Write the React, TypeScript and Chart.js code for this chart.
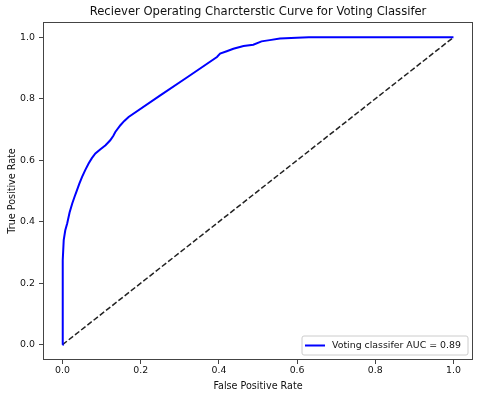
import React, { useEffect, useRef } from "react";
import { Chart, registerables } from "chart.js";

Chart.register(...registerables);

const fpr = [0, 0, 0.001, 0.003, 0.007, 0.012, 0.018, 0.025, 0.031, 0.037, 0.043, 0.05, 0.058, 0.067, 0.075, 0.084, 0.097, 0.11, 0.122, 0.13, 0.135, 0.148, 0.158, 0.169, 0.25, 0.32, 0.395, 0.403, 0.42, 0.437, 0.463, 0.488, 0.509, 0.53, 0.556, 0.599, 0.63, 0.7, 1.0];
const tpr = [0, 0.2, 0.275, 0.34, 0.372, 0.395, 0.43, 0.46, 0.482, 0.503, 0.524, 0.546, 0.568, 0.59, 0.607, 0.622, 0.636, 0.649, 0.665, 0.68, 0.692, 0.714, 0.728, 0.741, 0.811, 0.871, 0.936, 0.947, 0.955, 0.963, 0.972, 0.976, 0.987, 0.991, 0.996, 0.999, 1.0, 1.0, 1.0];
const diagX = [0, 1];
const diagY = [0, 1];
const tickValues = [0, 0.2, 0.4, 0.6, 0.8, 1.0];

const titleText = "Reciever Operating Charcterstic Curve for Voting Classifer";
const xTitle = "False Positive Rate";
const yTitle = "True Positive Rate";
const legendLabel = "Voting classifer AUC = 0.89";

const FONT = "'DejaVu Sans', sans-serif";

const decorPlugin = {
  id: "decor",
  afterDraw(chart: any) {
    const { ctx, chartArea } = chart;
    const { left, right, top, bottom } = chartArea;
    ctx.save();
    // frame
    ctx.strokeStyle = "#444";
    ctx.lineWidth = 1;
    ctx.strokeRect(left + 0.5, top + 0.5, right - left - 1, bottom - top - 1);
    // title
    ctx.fillStyle = "#111";
    ctx.textAlign = "center";
    ctx.textBaseline = "middle";
    ctx.font = `11.6px ${FONT}`;
    ctx.fillText(titleText, (left + right) / 2, 12);
    // x title
    ctx.font = `9.6px ${FONT}`;
    ctx.fillText(xTitle, (left + right) / 2, 386);
    // y title
    ctx.save();
    ctx.translate(12, (top + bottom) / 2);
    ctx.rotate(-Math.PI / 2);
    ctx.fillText(yTitle, 0, 0);
    ctx.restore();
    // legend
    const lx = 302, ly = 336, lw = 166, lh = 19;
    ctx.fillStyle = "rgba(255,255,255,0.8)";
    ctx.strokeStyle = "#ccc";
    ctx.lineWidth = 1;
    ctx.beginPath();
    const r = 2;
    ctx.moveTo(lx + r, ly);
    ctx.arcTo(lx + lw, ly, lx + lw, ly + lh, r);
    ctx.arcTo(lx + lw, ly + lh, lx, ly + lh, r);
    ctx.arcTo(lx, ly + lh, lx, ly, r);
    ctx.arcTo(lx, ly, lx + lw, ly, r);
    ctx.closePath();
    ctx.fill();
    ctx.stroke();
    ctx.strokeStyle = "#0000ff";
    ctx.lineWidth = 2;
    ctx.beginPath();
    ctx.moveTo(305, ly + lh / 2);
    ctx.lineTo(325, ly + lh / 2);
    ctx.stroke();
    ctx.fillStyle = "#111";
    ctx.textAlign = "left";
    ctx.font = `9.4px ${FONT}`;
    ctx.fillText(legendLabel, 332, ly + lh / 2);
    ctx.restore();
  },
};

export default function App() {
  const ref = useRef<HTMLCanvasElement>(null);
  useEffect(() => {
    if (!ref.current) return;
    const tickFont = { family: FONT, size: 9.4 };
    const chart = new Chart(ref.current, {
      type: "scatter",
      data: {
        datasets: [
          {
            label: legendLabel,
            data: fpr.map((x, i) => ({ x, y: tpr[i] })),
            showLine: true,
            borderColor: "#0000ff",
            borderWidth: 2,
            pointRadius: 0,
            tension: 0,
          },
          {
            label: "diag",
            data: diagX.map((x, i) => ({ x, y: diagY[i] })),
            showLine: true,
            borderColor: "#222",
            borderWidth: 1.5,
            borderDash: [5.5, 2.4],
            pointRadius: 0,
          },
        ],
      },
      options: {
        responsive: false,
        animation: false,
        layout: { padding: { left: 0, right: 7, top: 22, bottom: 0 } },
        plugins: { legend: { display: false }, title: { display: false }, tooltip: { enabled: false } },
        scales: {
          x: {
            type: "linear",
            min: -0.05,
            max: 1.05,
            afterBuildTicks: (s: any) => { s.ticks = tickValues.map((v) => ({ value: v })); },
            afterFit: (s: any) => { s.height = 39; },
            grid: { drawOnChartArea: false, drawTicks: true, tickLength: 4, color: "#444" },
            border: { display: false },
            ticks: { font: tickFont, color: "#111", padding: 1, maxRotation: 0, callback: (v: any) => Number(v).toFixed(1) },
          },
          y: {
            type: "linear",
            min: -0.05,
            max: 1.05,
            afterBuildTicks: (s: any) => { s.ticks = tickValues.map((v) => ({ value: v })); },
            afterFit: (s: any) => { s.width = 43; },
            grid: { drawOnChartArea: false, drawTicks: true, tickLength: 4, color: "#444" },
            border: { display: false },
            ticks: { font: tickFont, color: "#111", padding: 4, callback: (v: any) => Number(v).toFixed(1) },
          },
        },
      },
      plugins: [decorPlugin],
    });
    return () => chart.destroy();
  }, []);
  return (
    <div style={{ position: "fixed", left: 0, top: 0, width: 480, height: 399, background: "#fff" }}>
      <canvas ref={ref} width={480} height={399} style={{ display: "block" }} />
    </div>
  );
}
